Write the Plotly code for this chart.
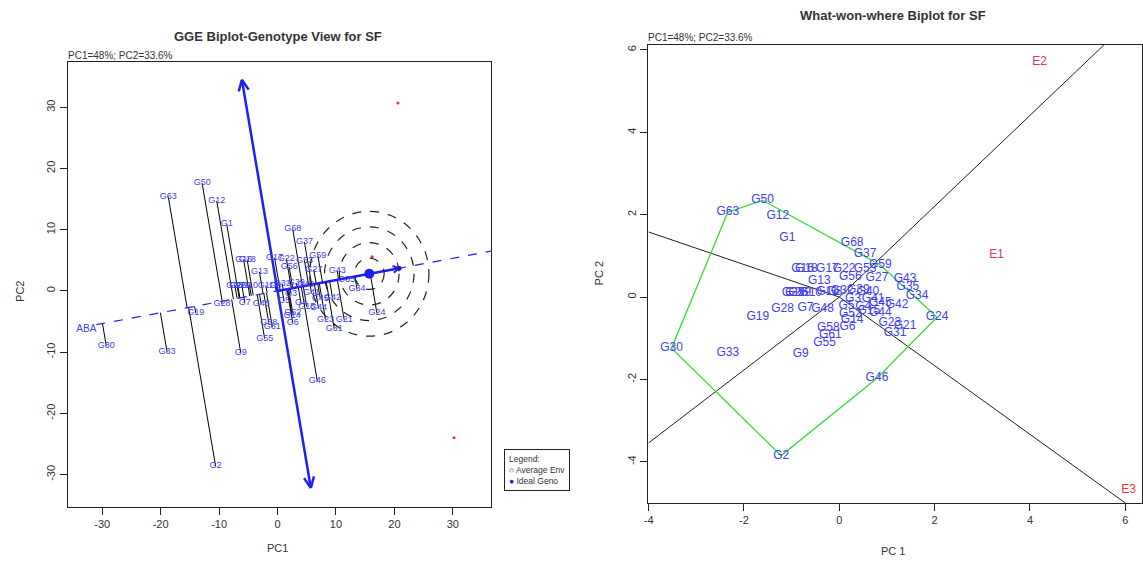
import numpy as np
import plotly.graph_objects as go

# ---------------- data ----------------
genotypes = ["G1", "G2", "G7", "G9", "G12", "G13", "G16", "G18", "G19", "G24",
             "G25", "G26", "G29", "G10", "G28", "G30", "G33", "G34", "G35", "G37",
             "G43", "G42", "G46", "G48", "G50", "G63", "G68", "G21", "G23", "G31",
             "G55", "G61", "G58", "G6", "G14", "G52", "G44", "G45", "G27", "G59",
             "G53", "G17", "G56", "G22", "G39", "G40", "G41", "G32", "G8", "G11",
             "G3", "G4", "G5", "G15"]
# genotype view (left)
left_x = [-8.7, -10.6, -5.6, -6.3, -10.4, -3.1, -5.8, -5.2, -14.0, 17.0,
          -7.3, -6.8, -6.1, -4.8, -9.5, -29.3, -18.9, 13.6, 11.8, 4.6,
          10.2, 9.4, 6.8, -2.8, -12.9, -18.7, 2.6, 11.4, 8.2, 9.7,
          -2.2, -0.9, -1.5, 2.6, 2.5, 2.6, 7.0, 7.3, 6.2, 6.9,
          4.6, -0.5, 2.0, 1.5, 3.2, 4.8, 5.8, 0.8, -0.4, -2.0,
          2.3, 4.0, 1.1, 5.0]
left_y = [10.9, -28.6, -1.9, -10.1, 14.7, 3.1, 5.1, 5.1, -3.6, -3.6,
          0.9, 0.9, 0.9, 0.9, -2.1, -9.0, -10.0, 0.3, 1.8, 8.0,
          3.3, -1.1, -14.7, -2.1, 17.6, 15.4, 10.1, -4.7, -4.7, -6.2,
          -7.8, -5.9, -5.2, -5.2, -4.0, -3.6, -2.8, -1.2, 3.5, 5.8,
          5.0, 5.4, 3.9, 5.3, 1.3, 1.0, -0.3, 1.2, 0.9, 0.9,
          -0.4, -1.9, -1.6, -2.6]
# what-won-where (right)
right_x = [-1.09, -1.22, -0.71, -0.81, -1.29, -0.42, -0.77, -0.69, -1.71, 2.05,
           -0.97, -0.90, -0.83, -0.60, -1.19, -3.52, -2.34, 1.63, 1.44, 0.54,
           1.38, 1.21, 0.79, -0.35, -1.61, -2.34, 0.27, 1.38, 1.06, 1.17,
           -0.31, -0.19, -0.23, 0.17, 0.27, 0.23, 0.86, 0.86, 0.79, 0.86,
           0.54, -0.25, 0.23, 0.10, 0.40, 0.60, 0.71, 0.06, -0.10, -0.25,
           0.29, 0.50, 0.15, 0.62]
right_y = [1.43, -3.85, -0.27, -1.38, 1.97, 0.39, 0.68, 0.68, -0.49, -0.49,
           0.10, 0.10, 0.10, 0.10, -0.29, -1.24, -1.35, 0.02, 0.24, 1.04,
           0.44, -0.19, -1.97, -0.29, 2.35, 2.06, 1.31, -0.70, -0.63, -0.87,
           -1.12, -0.92, -0.75, -0.73, -0.56, -0.40, -0.39, -0.15, 0.46, 0.78,
           0.68, 0.68, 0.49, 0.68, 0.17, 0.12, -0.05, 0.15, 0.12, 0.12,
           -0.05, -0.25, -0.22, -0.35]

env_names = ["E1", "E2", "E3"]
env_left_x = [16.2, 20.6, 30.2]
env_left_y = [5.6, 30.7, -24.0]
env_right_x = [3.3, 4.2, 6.07]
env_right_y = [1.02, 5.7, -4.68]

avg_env = [20.8, 3.7]          # average environment (end of AEA arrow)
ideal_geno = [15.7, 2.8]       # ideal genotype
ring_radii = [2.55, 5.1, 7.65, 10.2]
aea_x_extent = [-31.0, 40.0]   # dashed average-environment axis
aea_label = "ABA"
atc_top = [-6.1, 34.5]         # ATC ordinate arrow ends
atc_bottom = [5.7, -32.2]

hull_vertices = ["G50", "G59", "G24", "G46", "G2", "G30", "G63", "G50"]
ray_end_x = [-4.0, -4.0, 6.0, 5.55]
ray_end_y = [1.58, -3.54, -5.0, 6.12]

x_ticks_left = [-30, -20, -10, 0, 10, 20, 30]
y_ticks_left = [-30, -20, -10, 0, 10, 20, 30]
x_ticks_right = [-4, -2, 0, 2, 4, 6]
y_ticks_right = [-4, -2, 0, 2, 4, 6]

subtitle = "PC1=48%; PC2=33.6%"

# ---------------- styling ----------------
FONT = "Liberation Sans, Arial, sans-serif"
BLUE = "#2020f5"
GBLUE = "#4040f0"
RED = "#ee3344"
GRAY = "#333333"

W, H = 1143, 563
LX = [-35.9, 36.5]
LY = [-35.3, 37.4]
RX = [-4.01, 6.35]
RY = [-5.0, 6.12]
LDX = [64 / W, 489 / W]
LDY = [1 - 507 / H, 1 - 62 / H]
RDX = [647 / W, 1.0]
RDY = [1 - 503 / H, 1 - 45 / H]

fig = go.Figure()

# ---- left: projection lines to AEA ----
m = avg_env[1] / avg_env[0]
px_, py_ = [], []
for x, y in zip(left_x, left_y):
    t = (x + m * y) / (1 + m * m)
    px_ += [x, t, None]
    py_ += [y, t * m, None]
fig.add_trace(go.Scatter(x=px_, y=py_, mode="lines", line=dict(color="black", width=1),
                         hoverinfo="skip", xaxis="x", yaxis="y"))

# AEA dashed
fig.add_trace(go.Scatter(x=aea_x_extent, y=[v * m for v in aea_x_extent], mode="lines",
                         line=dict(color=BLUE, width=1.2, dash="dash"), xaxis="x", yaxis="y"))
# solid AEA arrow from origin to average environment
fig.add_trace(go.Scatter(x=[0, avg_env[0]], y=[0, avg_env[1]], mode="lines",
                         line=dict(color=BLUE, width=2.5), xaxis="x", yaxis="y"))
# ATC ordinate
fig.add_trace(go.Scatter(x=[atc_top[0], atc_bottom[0]], y=[atc_top[1], atc_bottom[1]], mode="lines",
                         line=dict(color=BLUE, width=2.5), xaxis="x", yaxis="y"))

# arrow heads (computed in pixel space)
sx = (LDX[1] - LDX[0]) * W / (LX[1] - LX[0])
sy = (LDY[1] - LDY[0]) * H / (LY[1] - LY[0])


def head(tip, frm, length=12, ang=25):
    dx = (tip[0] - frm[0]) * sx
    dy = (tip[1] - frm[1]) * sy
    n = np.hypot(dx, dy)
    ux, uy = dx / n, dy / n
    xs, ys = [], []
    for a in (ang, -ang):
        r = np.radians(a)
        bx = ux * np.cos(r) - uy * np.sin(r)
        by = ux * np.sin(r) + uy * np.cos(r)
        xs += [tip[0] - bx * length / sx, tip[0], None]
        ys += [tip[1] - by * length / sy, tip[1], None]
    return xs, ys


hx, hy = [], []
for tip, frm in [(atc_top, atc_bottom), (atc_bottom, atc_top)]:
    a, b = head(tip, frm)
    hx += a
    hy += b
fig.add_trace(go.Scatter(x=hx, y=hy, mode="lines", line=dict(color=BLUE, width=2.5),
                         xaxis="x", yaxis="y"))
a, b = head(avg_env, [0, 0], length=7, ang=30)
fig.add_trace(go.Scatter(x=a, y=b, mode="lines", line=dict(color=BLUE, width=2),
                         xaxis="x", yaxis="y"))

# ideal genotype and average env markers
fig.add_trace(go.Scatter(x=[ideal_geno[0]], y=[ideal_geno[1]], mode="markers",
                         marker=dict(color=BLUE, size=10), xaxis="x", yaxis="y"))
fig.add_trace(go.Scatter(x=[avg_env[0]], y=[avg_env[1]], mode="markers",
                         marker=dict(color=BLUE, size=5), xaxis="x", yaxis="y"))

# environments (red)
fig.add_trace(go.Scatter(x=env_left_x, y=env_left_y, mode="markers",
                         marker=dict(color=RED, size=3), xaxis="x", yaxis="y"))

# genotype labels
fig.add_trace(go.Scatter(x=left_x, y=left_y, mode="text", text=genotypes,
                         textfont=dict(color=GBLUE, size=9, family=FONT),
                         textposition="middle center", xaxis="x", yaxis="y"))
fig.add_trace(go.Scatter(x=[aea_x_extent[0]], y=[aea_x_extent[0] * m], mode="text", text=[aea_label],
                         textfont=dict(color=GBLUE, size=10, family=FONT),
                         textposition="bottom left", xaxis="x", yaxis="y"))

# concentric rings
shapes = []
for r in ring_radii:
    shapes.append(dict(type="circle", xref="x", yref="y",
                       x0=ideal_geno[0] - r, x1=ideal_geno[0] + r,
                       y0=ideal_geno[1] - r, y1=ideal_geno[1] + r,
                       line=dict(color="#222222", width=1.2, dash="dash")))

# ---- right: what-won-where ----
rx_, ry_ = [], []
for ex, ey in zip(ray_end_x, ray_end_y):
    rx_ += [0, ex, None]
    ry_ += [0, ey, None]
fig.add_trace(go.Scatter(x=rx_, y=ry_, mode="lines", line=dict(color="#222222", width=1),
                         xaxis="x2", yaxis="y2"))
idx = {g: i for i, g in enumerate(genotypes)}
fig.add_trace(go.Scatter(x=[right_x[idx[g]] for g in hull_vertices],
                         y=[right_y[idx[g]] for g in hull_vertices], mode="lines",
                         line=dict(color="#33dd33", width=1.3), xaxis="x2", yaxis="y2"))
fig.add_trace(go.Scatter(x=right_x, y=right_y, mode="text", text=genotypes,
                         textfont=dict(color=GBLUE, size=12, family=FONT),
                         textposition="middle center", xaxis="x2", yaxis="y2"))
fig.add_trace(go.Scatter(x=env_right_x, y=env_right_y, mode="text", text=env_names,
                         textfont=dict(color=RED, size=12, family=FONT),
                         textposition="middle center", xaxis="x2", yaxis="y2"))

axis_common = dict(showgrid=False, zeroline=False, showline=True, mirror=True, linecolor="#222222",
                   linewidth=1.2, ticks="outside", ticklen=7, tickcolor="#222222",
                   tickfont=dict(size=11, color=GRAY, family=FONT))


def ticktext(vals):
    return [str(v) for v in vals]


def ann(text, x, y, size, xanchor="center", yanchor="middle", angle=0, **kw):
    return dict(text=text, x=x / W, y=1 - y / H, xref="paper", yref="paper", xanchor=xanchor,
                yanchor=yanchor, showarrow=False, textangle=angle,
                font=dict(size=size, color=GRAY, family=FONT), **kw)


annotations = [
    ann("<b>GGE Biplot-Genotype View for SF</b>", 275, 36, 13),
    ann(subtitle, 62, 55, 10, xanchor="left"),
    ann("<b>What-won-where Biplot for SF</b>", 893, 15, 13),
    ann(subtitle, 645, 37, 10, xanchor="left"),
    ann("PC1", 275, 548, 11),
    ann("PC2", 16, 291, 11, angle=-90),
    ann("PC 1", 893, 551, 11),
    ann("PC 2", 598, 273, 11, angle=-90),
    ann("Legend:<br><span style='color:" + BLUE + "'>○</span> Average Env<br>"
        "<span style='color:" + BLUE + "'>●</span> Ideal Geno",
        502, 449, 8.5, xanchor="left", yanchor="top", align="left", bordercolor="#222222",
        borderwidth=1, borderpad=4, bgcolor="white"),
]

fig.update_layout(
    width=W, height=H, margin=dict(l=0, r=0, t=0, b=0),
    paper_bgcolor="white", plot_bgcolor="white", showlegend=False,
    xaxis=dict(domain=LDX, range=LX, tickvals=x_ticks_left, ticktext=ticktext(x_ticks_left),
               anchor="y", **axis_common),
    yaxis=dict(domain=LDY, range=LY, tickvals=y_ticks_left, ticktext=ticktext(y_ticks_left),
               tickangle=-90, anchor="x", **axis_common),
    xaxis2=dict(domain=RDX, range=RX, tickvals=x_ticks_right, ticktext=ticktext(x_ticks_right),
                anchor="y2", **axis_common),
    yaxis2=dict(domain=RDY, range=RY, tickvals=y_ticks_right, ticktext=ticktext(y_ticks_right),
                tickangle=-90, anchor="x2", **axis_common),
    shapes=shapes, annotations=annotations,
)

fig.write_html("out.html")
